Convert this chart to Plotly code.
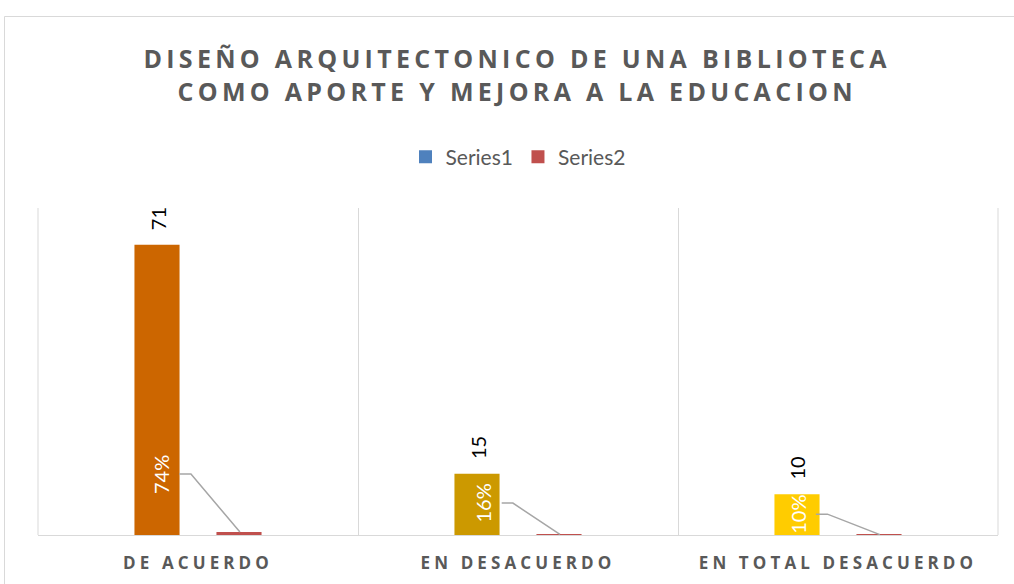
import plotly.graph_objects as go

categories = ["DE ACUERDO", "EN DESACUERDO", "EN TOTAL DESACUERDO"]
series1 = [71, 15, 10]
series2 = [0.74, 0.16, 0.10]
series1_labels = ["71", "15", "10"]
series2_labels = ["74%", "16%", "10%"]
series1_colors = ["#CC6600", "#CC9900", "#FFCC00"]
title_lines = ["DISEÑO ARQUITECTONICO DE UNA BIBLIOTECA", "COMO APORTE Y MEJORA A LA EDUCACION"]

# label placement (category offset, y value) for the percentage labels
label_pos_y = [14.9, 7.8, 5.1]
label_off_x = [-0.116, -0.108, -0.123]
leader_start = [-0.059, -0.051, -0.069]
leader_elbow = [-0.022, -0.016, -0.033]
leader_end = 0.131
bar1_off = -0.127

fig = go.Figure()
fig.add_trace(go.Bar(
    x=categories, y=series1, name="Series1", showlegend=False,
    marker=dict(color=series1_colors, line=dict(width=0)),
))
fig.add_trace(go.Bar(
    x=categories, y=series2, name="Series2", showlegend=False,
    marker=dict(color="#C0504D", line=dict(width=0)),
))
# legend entries
fig.add_trace(go.Scatter(x=[None], y=[None], mode="markers", name="Series1",
                         marker=dict(symbol="square", size=13, color="#4F81BD")))
fig.add_trace(go.Scatter(x=[None], y=[None], mode="markers", name="Series2",
                         marker=dict(symbol="square", size=13, color="#C0504D")))

shapes = []
annotations = []
for i in range(len(categories)):
    annotations.append(dict(
        x=i + bar1_off, y=series1[i], xref="x", yref="y",
        text=series1_labels[i], showarrow=False, textangle=-90,
        font=dict(family="Lato", size=20, color="#000000"),
        xanchor="center", yanchor="middle", yshift=26,
    ))
    annotations.append(dict(
        x=i + label_off_x[i], y=label_pos_y[i], xref="x", yref="y",
        text=series2_labels[i], showarrow=False, textangle=-90,
        font=dict(family="Lato", size=20, color="#FFFFFF"),
        xanchor="center", yanchor="middle",
    ))
    shapes.append(dict(type="path", xref="x", yref="y",
                       path=f"M {i + leader_start[i]} {label_pos_y[i]} L {i + leader_elbow[i]} {label_pos_y[i]} L {i + leader_end} {series2[i]}",
                       line=dict(color="#A6A6A6", width=1.5)))

# edge gridlines of the plot area
for xe in (0, 1):
    shapes.append(dict(type="line", xref="paper", yref="paper", x0=xe, x1=xe, y0=0, y1=1,
                       line=dict(color="#D9D9D9", width=1), layer="below"))
# outer chart border
shapes.append(dict(type="rect", xref="paper", yref="paper",
                   x0=-0.0349, x1=1.2, y0=-0.4, y1=1.5856,
                   line=dict(color="#D9D9D9", width=1), layer="below"))

fig.update_layout(
    width=1014, height=584,
    paper_bgcolor="white", plot_bgcolor="white",
    margin=dict(l=38, r=16, t=208, b=49),
    title=dict(text="<br>".join(title_lines), x=0.51, xanchor="center",
               y=1 - 68 / 584, yanchor="middle",
               font=dict(family="Open Sans", size=25, color="#595959", weight="bold")),
    barmode="group", bargap=0.4875, bargroupgap=0.45,
    legend=dict(orientation="h", x=0.5, xanchor="center", y=1.156, yanchor="middle",
                font=dict(family="Lato", size=21, color="#595959"), itemwidth=30),
    xaxis=dict(type="category", tickson="boundaries", showgrid=True, gridcolor="#D9D9D9",
               gridwidth=1, showline=True, linecolor="#D9D9D9", linewidth=1, ticks="",
               ticklabelstandoff=13, automargin=False,
               tickfont=dict(family="Open Sans", size=17, color="#595959", weight="bold")),
    yaxis=dict(range=[0, 80], showgrid=False, zeroline=False, showticklabels=False,
               showline=False, automargin=False),
    shapes=shapes, annotations=annotations,
)

post = """
document.body.style.margin = '0';
var gd = document.getElementById('{plot_id}');
gd.querySelectorAll('.gtitle').forEach(function(e){ e.style.letterSpacing = '4.3px'; });
gd.querySelectorAll('.xtick text').forEach(function(e){ e.style.letterSpacing = '4.1px'; });
"""
fig.write_html("out.html", post_script=post, config={"displayModeBar": False})
